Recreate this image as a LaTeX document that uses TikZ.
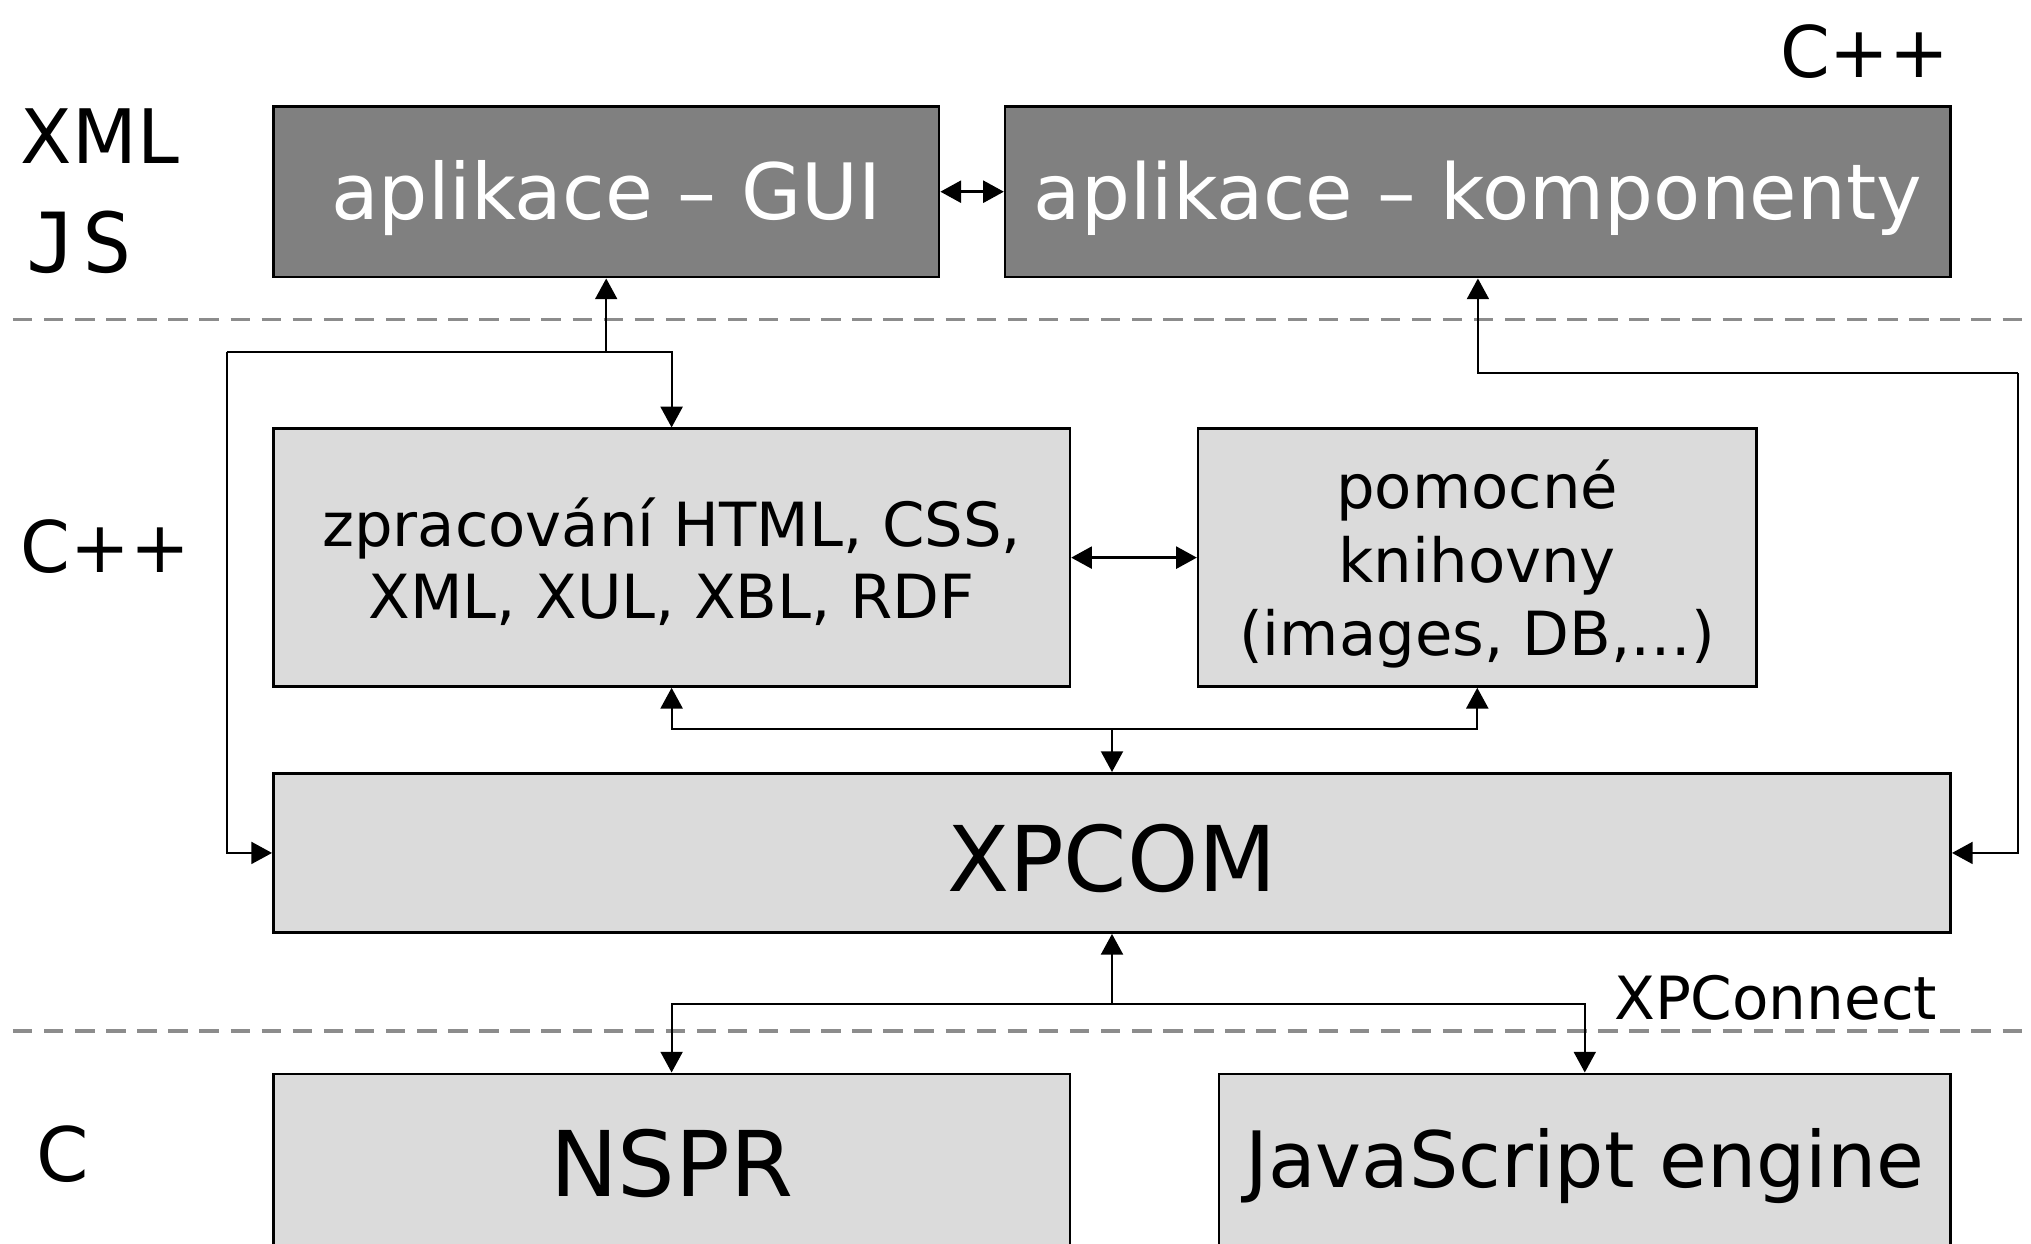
\documentclass[tikz,border=0pt]{standalone}
\usepackage{fontspec}
\setmainfont{DejaVu Sans}
\setmonofont{DejaVu Sans Mono}
\usetikzlibrary{arrows.meta}
\begin{document}
\begin{tikzpicture}[x=1pt,y=-1pt,
  darkbox/.style={draw=black, line width=2pt, fill=black!50, inner sep=0pt},
  lightbox/.style={draw=black, line width=2pt, fill=black!14, inner sep=0pt},
  txt/.style={inner sep=0pt, align=center},
  conn/.style={line width=1.6pt, -{Triangle[length=16pt,width=17pt]}},
  dconn/.style={line width=2pt, {Triangle[length=16pt,width=17pt]}-{Triangle[length=16pt,width=17pt]}},
  layer/.style={draw=black!45, line width=2.4pt, dash pattern=on 15pt off 9pt},
  lbl/.style={inner sep=0pt, anchor=base west}]
\useasboundingbox (0,0) rectangle (1568,960);
\clip (0,0) rectangle (1568,960);
% layer separators
\draw[layer] (10,247) -- (1568,247);
\draw[layer] (10,796) -- (1568,796);
% layer labels
\node[lbl, font=\fontsize{58}{58}\selectfont] (lxml) at (16,126) {XML};
\node[lbl, font=\ttfamily\fontsize{64}{64}\selectfont] (ljs) at (20,210) {J\kern5pt S};
\node[lbl, font=\fontsize{55}{55}\selectfont, anchor=base east] (lcpp1) at (1505,60) {C++};
\node[lbl, font=\fontsize{55}{55}\selectfont] (lcpp2) at (16,442) {C++};
\node[lbl, font=\fontsize{58}{58}\selectfont] (lc) at (28,912) {C};
% boxes
\node[darkbox, minimum width=514pt, minimum height=132pt] (gui) at (468,148) {};
\node[darkbox, minimum width=730pt, minimum height=132pt] (komp) at (1141,148) {};
\node[lightbox, minimum width=615pt, minimum height=199pt] (zpr) at (518.5,430.5) {};
\node[lightbox, minimum width=431pt, minimum height=199pt] (pom) at (1140.5,430.5) {};
\node[lightbox, minimum width=1295pt, minimum height=123pt] (xpcom) at (858.5,658.5) {};
\node[lightbox, minimum width=615pt, minimum height=138pt] (nspr) at (518.5,898) {};
\node[lightbox, minimum width=565pt, minimum height=138pt] (js) at (1223.5,898) {};
% box texts
\node[txt, text=white, font=\fontsize{60}{60}\selectfont, yshift=-5pt] (guit) at (gui.center) {aplikace -- GUI};
\node[txt, text=white, font=\fontsize{59.5}{60}\selectfont, yshift=-5pt] (kompt) at (komp.center) {aplikace -- komponenty};
\node[txt, font=\fontsize{47}{56}\selectfont, yshift=-3pt] (zprt) at (zpr.center) {zpracování HTML, CSS,\\XML, XUL, XBL, RDF};
\node[txt, font=\fontsize{47}{57}\selectfont, yshift=-5pt] (pomt) at (pom.center) {pomocné\\knihovny\\(images, DB,…)};
\node[txt, font=\fontsize{70}{70}\selectfont, yshift=-4pt] (xpcomt) at (xpcom.center) {XPCOM};
\node[txt, font=\fontsize{70}{70}\selectfont] (nsprt) at (nspr.center) {NSPR};
\node[txt, font=\fontsize{60}{60}\selectfont, yshift=-2pt] (jst) at (js.center) {JavaScript engine};
\node[lbl, font=\fontsize{46}{46}\selectfont] (xpc) at (1246,787) {XPConnect};
% junction points
\coordinate (l1) at (175,272);
\coordinate (j1) at (468,272);
\coordinate (r1) at (1558,288);
\coordinate (m1) at (858.5,563);
\coordinate (m2) at (858.5,775);
% connectors
\draw[dconn] (gui.east) -- (komp.west);
\draw[dconn] (zpr.east) -- (pom.west);
\draw[conn] (j1) -- (gui.south);
\draw[conn] (l1) -| (zpr.north);
\draw[conn] (l1) |- (xpcom.west);
\draw[conn] (r1) -| (komp.south);
\draw[conn] (r1) |- (xpcom.east);
\draw[conn] (m1) -| (zpr.south);
\draw[conn] (m1) -| (pom.south);
\draw[conn] (m1) -- (xpcom.north);
\draw[conn] (m2) -- (xpcom.south);
\draw[conn] (m2) -| (nspr.north);
\draw[conn] (m2) -| (js.north);
\end{tikzpicture}
\end{document}
